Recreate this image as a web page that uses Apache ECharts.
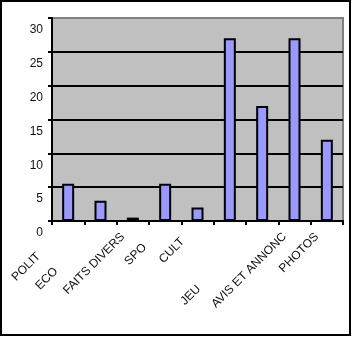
<!DOCTYPE html>
<html>
<head>
<meta charset="utf-8">
<style>
html,body{margin:0;padding:0;background:#fff;}
#c{width:352px;height:337px;}
</style>
<script src="https://cdn.jsdelivr.net/npm/echarts@6/dist/echarts.min.js"></script>
</head>
<body>
<div id="c"></div>
<script>
var categories = ['POLIT', 'ECO', 'FAITS DIVERS', 'SPO', 'CULT', 'JEU', '', 'AVIS ET ANNONC', 'PHOTOS'];
var values = [5.5, 3, 0.5, 5.5, 2, 27, 17, 27, 12];
var yTicks = [0, 5, 10, 15, 20, 25, 30];

// label nudges (padding in the rotated label frame), kept apart from the data
var labelPadRight = [42, 63, 14, 29, 21, 66, 14, 14, 14];
var labelPadTop = [6, 8, 0, 0, 0, 16, 0, 0, 0];
var labelVAlign = ['middle', 'middle', 'middle', 'middle', 'middle', 'top', 'middle', 'middle', 'middle'];

var catData = categories.map(function (c, i) {
  return {value: c, textStyle: {padding: [labelPadTop[i], labelPadRight[i], 0, 0], verticalAlign: labelVAlign[i]}};
});

var chart = echarts.init(document.getElementById('c'), null, {renderer: 'canvas'});
chart.setOption({
  animation: false,
  backgroundColor: '#fff',
  grid: {
    left: 52, right: 9, top: 18, bottom: 116,
    show: true, backgroundColor: '#c0c0c0', borderColor: '#808080', borderWidth: 2
  },
  xAxis: {
    type: 'category',
    data: catData,
    axisLine: {lineStyle: {color: '#000', width: 2}},
    axisTick: {show: true, length: 4, lineStyle: {color: '#000', width: 2}},
    axisLabel: {
      interval: 0, rotate: 45, margin: 4,
      color: '#111', fontFamily: 'Liberation Sans, Arial, sans-serif', fontSize: 12
    }
  },
  yAxis: {
    type: 'value',
    min: yTicks[0], max: yTicks[yTicks.length - 1], interval: 5,
    axisLine: {show: true, lineStyle: {color: '#000', width: 2}},
    axisTick: {show: true, length: 4, lineStyle: {color: '#000', width: 2}},
    splitLine: {show: true, lineStyle: {color: ['#000', '#000', '#000', '#000', '#000', '#000', '#808080'], width: 2}},
    axisLabel: {
      color: '#111', fontFamily: 'Liberation Sans, Arial, sans-serif', fontSize: 12,
      margin: 9, verticalAlign: 'top', padding: [6, 0, 0, 0]
    }
  },
  series: [{
    type: 'bar',
    data: values,
    barWidth: 12,
    itemStyle: {color: '#9999ff', borderColor: '#000', borderWidth: 2}
  }],
  graphic: [{
    type: 'rect',
    shape: {x: 1, y: 1, width: 349, height: 334},
    style: {fill: 'none', stroke: '#000', lineWidth: 2},
    silent: true
  }]
});
</script>
</body>
</html>
